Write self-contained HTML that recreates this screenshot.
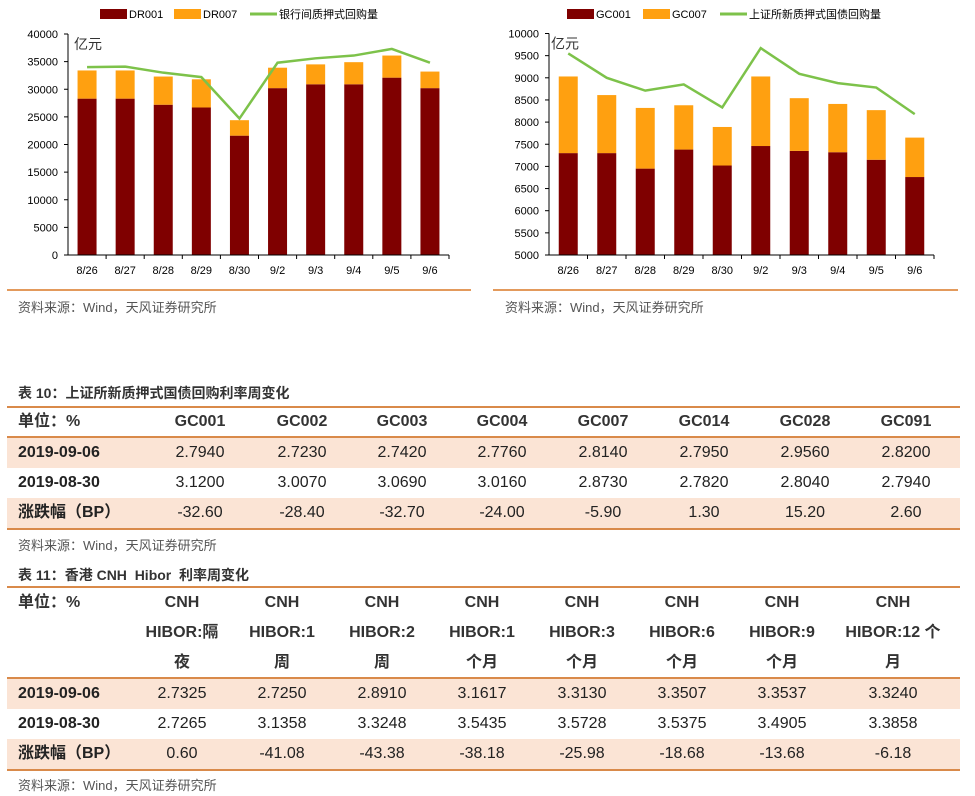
<!DOCTYPE html>
<html><head><meta charset="utf-8">
<style>
body{margin:0;width:975px;height:796px;background:#fff;position:relative;overflow:hidden;font-family:"Liberation Sans","Noto Sans CJK SC",sans-serif;color:#222}
.abs{position:absolute}
.src{position:absolute;font-size:13px;color:#555}
.ttl{position:absolute;font-size:14px;font-weight:bold;color:#333}
.tbl{position:absolute;left:7px;width:953px;border-top:2px solid #d98a4a;border-bottom:2px solid #d98a4a}
.row{position:relative;height:30px;font-size:16px}
.row.sh{background:#fbe4d5}
.row.hd{border-bottom:2px solid #d98a4a;height:28px;font-weight:bold;color:#333}
.c{position:absolute;top:0;line-height:30px;text-align:center;width:100px}
.lab{position:absolute;left:11px;top:0;line-height:30px;font-weight:bold}
</style></head><body>
<svg class="abs" style="left:0;top:0" width="975" height="330" id="charts"></svg>
<div class="src" style="left:18px;top:297px">资料来源：Wind，天风证券研究所</div>
<div class="src" style="left:505px;top:297px">资料来源：Wind，天风证券研究所</div>

<div class="ttl" style="left:18px;top:383px">表 10：上证所新质押式国债回购利率周变化</div>
<div class="tbl" style="top:406px">
 <div class="row hd"><span class="lab" style="line-height:28px">单位：%</span>
  <span class="c" style="left:143px;line-height:28px">GC001</span><span class="c" style="left:245px;line-height:28px">GC002</span><span class="c" style="left:345px;line-height:28px">GC003</span><span class="c" style="left:445px;line-height:28px">GC004</span><span class="c" style="left:546px;line-height:28px">GC007</span><span class="c" style="left:647px;line-height:28px">GC014</span><span class="c" style="left:748px;line-height:28px">GC028</span><span class="c" style="left:849px;line-height:28px">GC091</span></div>
 <div class="row sh"><span class="lab">2019-09-06</span>
  <span class="c" style="left:143px">2.7940</span><span class="c" style="left:245px">2.7230</span><span class="c" style="left:345px">2.7420</span><span class="c" style="left:445px">2.7760</span><span class="c" style="left:546px">2.8140</span><span class="c" style="left:647px">2.7950</span><span class="c" style="left:748px">2.9560</span><span class="c" style="left:849px">2.8200</span></div>
 <div class="row"><span class="lab">2019-08-30</span>
  <span class="c" style="left:143px">3.1200</span><span class="c" style="left:245px">3.0070</span><span class="c" style="left:345px">3.0690</span><span class="c" style="left:445px">3.0160</span><span class="c" style="left:546px">2.8730</span><span class="c" style="left:647px">2.7820</span><span class="c" style="left:748px">2.8040</span><span class="c" style="left:849px">2.7940</span></div>
 <div class="row sh"><span class="lab">涨跌幅（BP）</span>
  <span class="c" style="left:143px">-32.60</span><span class="c" style="left:245px">-28.40</span><span class="c" style="left:345px">-32.70</span><span class="c" style="left:445px">-24.00</span><span class="c" style="left:546px">-5.90</span><span class="c" style="left:647px">1.30</span><span class="c" style="left:748px">15.20</span><span class="c" style="left:849px">2.60</span></div>
</div>
<div class="src" style="left:18px;top:535px">资料来源：Wind，天风证券研究所</div>

<div class="ttl" style="left:18px;top:565px">表 11：香港 CNH&nbsp; Hibor&nbsp; 利率周变化</div>
<div class="tbl" style="top:586px">
 <div class="row hd" style="height:89px"><span class="lab" style="line-height:30px">单位：%</span>
  <span class="c" style="left:125px;line-height:30px">CNH<br>HIBOR:隔<br>夜</span><span class="c" style="left:225px;line-height:30px">CNH<br>HIBOR:1<br>周</span><span class="c" style="left:325px;line-height:30px">CNH<br>HIBOR:2<br>周</span><span class="c" style="left:425px;line-height:30px">CNH<br>HIBOR:1<br>个月</span><span class="c" style="left:525px;line-height:30px">CNH<br>HIBOR:3<br>个月</span><span class="c" style="left:625px;line-height:30px">CNH<br>HIBOR:6<br>个月</span><span class="c" style="left:725px;line-height:30px">CNH<br>HIBOR:9<br>个月</span><span class="c" style="left:826px;width:120px;line-height:30px">CNH<br>HIBOR:12 个<br>月</span></div>
 <div class="row sh"><span class="lab">2019-09-06</span>
  <span class="c" style="left:125px">2.7325</span><span class="c" style="left:225px">2.7250</span><span class="c" style="left:325px">2.8910</span><span class="c" style="left:425px">3.1617</span><span class="c" style="left:525px">3.3130</span><span class="c" style="left:625px">3.3507</span><span class="c" style="left:725px">3.3537</span><span class="c" style="left:836px">3.3240</span></div>
 <div class="row"><span class="lab">2019-08-30</span>
  <span class="c" style="left:125px">2.7265</span><span class="c" style="left:225px">3.1358</span><span class="c" style="left:325px">3.3248</span><span class="c" style="left:425px">3.5435</span><span class="c" style="left:525px">3.5728</span><span class="c" style="left:625px">3.5375</span><span class="c" style="left:725px">3.4905</span><span class="c" style="left:836px">3.3858</span></div>
 <div class="row sh"><span class="lab">涨跌幅（BP）</span>
  <span class="c" style="left:125px">0.60</span><span class="c" style="left:225px">-41.08</span><span class="c" style="left:325px">-43.38</span><span class="c" style="left:425px">-38.18</span><span class="c" style="left:525px">-25.98</span><span class="c" style="left:625px">-18.68</span><span class="c" style="left:725px">-13.68</span><span class="c" style="left:836px">-6.18</span></div>
</div>
<div class="src" style="left:18px;top:775px">资料来源：Wind，天风证券研究所</div>

<script>
const categories = ["8/26","8/27","8/28","8/29","8/30","9/2","9/3","9/4","9/5","9/6"];
const drBase = [28300,28300,27200,26700,21600,30200,30900,30900,32100,30200];
const drTotal = [33400,33400,32300,31800,24400,33900,34500,34900,36100,33200];
const drLine = [34000,34100,33000,32200,24700,34800,35600,36100,37300,34800];
const leftTicks = [0,5000,10000,15000,20000,25000,30000,35000,40000];
const gcBase = [7300,7300,6950,7380,7020,7460,7350,7320,7150,6760];
const gcTotal = [9030,8610,8320,8380,7890,9030,8540,8410,8270,7650];
const gcLine = [9550,9000,8710,8850,8330,9670,9090,8880,8780,8180];
const rightTicks = [5000,5500,6000,6500,7000,7500,8000,8500,9000,9500,10000];

const svg = document.getElementById('charts');
const NS = 'http://www.w3.org/2000/svg';
function mk(tag, attrs, parent){const e=document.createElementNS(NS,tag);for(const k in attrs)e.setAttribute(k,attrs[k]);(parent||svg).appendChild(e);return e;}

function chart(cfg){
  const g = mk('g',{});
  
  
  const {x0,x1,yb,yt,min,max} = cfg;
  const y = v => yb - (v-min)/(max-min)*(yb-yt);
  const bw = (x1-x0)/categories.length;
  const xc = i => x0 + bw*(i+0.5);
  cfg.ticks.forEach(t=>{
    mk('line',{x1:x0-4,x2:x0,y1:y(t),y2:y(t),stroke:'#000'},g);
    const tx = mk('text',{x:x0-10,y:y(t)+4,'text-anchor':'end','font-size':11,fill:'#000'},g);
    tx.textContent = t;
    
    
  });
  categories.forEach((c,i)=>{
    const bx = xc(i)-9.5;
    const r1 = mk('rect',{x:bx,y:y(cfg.base[i]),width:19,height:yb-y(cfg.base[i]),fill:'#7f0000'},g);
    
    
    const r2 = mk('rect',{x:bx,y:y(cfg.total[i]),width:19,height:y(cfg.base[i])-y(cfg.total[i]),fill:'#ffa010'},g);
    
    
    mk('line',{x1:x0+bw*(i+1),x2:x0+bw*(i+1),y1:yb,y2:yb+4,stroke:'#000'},g);
    const tx = mk('text',{x:xc(i),y:yb+19,'text-anchor':'middle','font-size':11,fill:'#000'},g);
    tx.textContent = c;
    
    
  });
  mk('line',{x1:x0,x2:x0,y1:yt,y2:yb,stroke:'#000'},g);
  mk('line',{x1:x0,x2:x1,y1:yb,y2:yb,stroke:'#000'},g);
  const pts = cfg.line.map((v,i)=>xc(i)+','+y(v)).join(' ');
  const pl = mk('polyline',{points:pts,fill:'none',stroke:'#7dc24a','stroke-width':2.5},g);
  
  
  const u = mk('text',{x:x0+(cfg.unitDx||6),y:yt+15,'font-size':14,fill:'#333'},g);
  u.textContent='亿元';
  
  
  const L = cfg.leg;
  mk('rect',{x:L[0],y:9,width:27,height:10,fill:'#7f0000'},g);
  const t1=mk('text',{x:L[0]+29,y:18,'font-size':11,fill:'#000'},g); t1.textContent=cfg.n1;
  mk('rect',{x:L[1],y:9,width:27,height:10,fill:'#ffa010'},g);
  const t2=mk('text',{x:L[1]+29,y:18,'font-size':11,fill:'#000'},g); t2.textContent=cfg.n2;
  mk('line',{x1:L[2],x2:L[2]+27,y1:14,y2:14,stroke:'#7dc24a','stroke-width':3},g);
  const t3=mk('text',{x:L[2]+29,y:18,'font-size':11,fill:'#000'},g); t3.textContent=cfg.n3;
  mk('line',{x1:cfg.r0,x2:cfg.r1,y1:290,y2:290,stroke:'#e39a5c','stroke-width':2},g);
}
chart({name:'left-chart',x0:68,x1:449,yb:255,yt:34,min:0,max:40000,ticks:leftTicks,base:drBase,total:drTotal,line:drLine,leg:[100,174,250],n1:'DR001',n2:'DR007',n3:'银行间质押式回购量',r0:7,r1:471});
chart({name:'right-chart',x0:549,x1:934,yb:255,yt:33.5,min:5000,max:10000,ticks:rightTicks,base:gcBase,total:gcTotal,line:gcLine,leg:[567,643,720],n1:'GC001',n2:'GC007',n3:'上证所新质押式国债回购量',r0:493,r1:958,unitDx:2});
</script>
</body></html>
